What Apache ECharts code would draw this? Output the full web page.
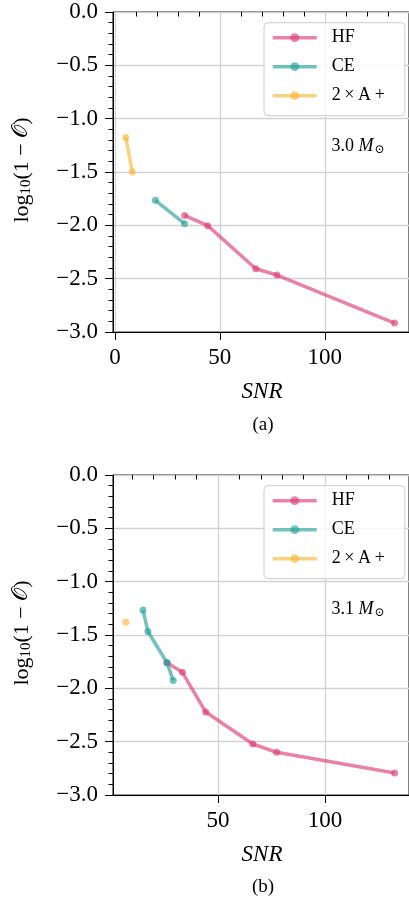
<!DOCTYPE html>
<html><head><meta charset="utf-8">
<script src="https://cdn.jsdelivr.net/npm/echarts@6/dist/echarts.min.js"></script>
<style>html,body{margin:0;padding:0;background:#fff}#c{width:409px;height:902px}</style>
</head><body><div id="c"></div>
<script>
// ---- data ----
const seriesNames = ['HF', 'CE', '2×A+'];
const seriesColors = ['#db3f77', '#2aa198', '#f6b93b'];
// panel (a): 3.0 Msun
const hfSnrA = [33.2, 44.2, 67.1, 77.2, 133.2];
const hfLogA = [-1.907, -2.003, -2.407, -2.466, -2.916];
const ceSnrA = [19.3, 33.2];
const ceLogA = [-1.766, -1.985];
const aaSnrA = [5.2, 8.3];
const aaLogA = [-1.176, -1.50];
// panel (b): 3.1 Msun
const hfSnrB = [26.2, 33.4, 44.3, 66.3, 77.4, 132.5];
const hfLogB = [-1.76, -1.85, -2.222, -2.522, -2.60, -2.794];
const ceSnrB = [15.0, 17.3, 26.2, 29.1];
const ceLogB = [-1.266, -1.467, -1.76, -1.926];
const aaSnrB = [7.0];
const aaLogB = [-1.381];
// ticks
const xMajorA = [0, 50, 100];
const xMajorB = [50, 100];
const xMinor = [10, 20, 30, 40, 60, 70, 80, 90, 110, 120, 130];
const yMin = -3, yMax = 0, yStep = 0.5;
const massLabels = ['3.0', '3.1'];
const captions = ['(a)', '(b)'];

const SERIF = '"Liberation Serif", "DejaVu Serif", serif';
const zip = (xs, ys) => xs.map((x, i) => [x, ys[i]]);

const panels = [
  {grid: {left: 113, top: 12, width: 300, height: 320}, xmin: -0.9, xmax: 140.1, major: xMajorA,
   data: [zip(hfSnrA, hfLogA), zip(ceSnrA, ceLogA), zip(aaSnrA, aaLogA)]},
  {grid: {left: 113, top: 475, width: 300, height: 320}, xmin: 1.0, xmax: 139.2, major: xMajorB,
   data: [zip(hfSnrB, hfLogB), zip(ceSnrB, ceLogB), zip(aaSnrB, aaLogB)]}
];

const grids = [], xAxes = [], yAxes = [], series = [], legends = [], graphics = [];
panels.forEach((p, k) => {
  grids.push(Object.assign({show: true, borderColor: '#000', borderWidth: 1, backgroundColor: 'transparent'}, p.grid));
  xAxes.push({
    type: 'value', gridIndex: k, min: p.xmin, max: p.xmax, position: 'bottom',
    axisLine: {show: true, onZero: false, lineStyle: {color: '#000', width: 1}},
    axisTick: {show: true, customValues: p.major, length: 8, lineStyle: {color: '#000', width: 1}},
    axisLabel: {show: true, customValues: p.major, margin: 14, color: '#000', fontFamily: SERIF, fontSize: 23},
    splitLine: {show: true, lineStyle: {color: '#d2d2d2', width: 1.3}}
  });
  xAxes.push({
    type: 'value', gridIndex: k, min: p.xmin, max: p.xmax, position: 'bottom',
    axisLine: {show: false},
    axisTick: {show: true, customValues: xMinor, length: 4.5, lineStyle: {color: '#000', width: 1}},
    axisLabel: {show: false}, splitLine: {show: false}
  });
  yAxes.push({
    type: 'value', gridIndex: k, min: yMin, max: yMax, interval: yStep,
    axisLine: {show: true, onZero: false, lineStyle: {color: '#000', width: 1}},
    axisTick: {show: true, length: 8, lineStyle: {color: '#000', width: 1}},
    minorTick: {show: true, splitNumber: 5, length: 4.5, lineStyle: {color: '#000', width: 1}},
    axisLabel: {margin: 15, color: '#000', fontFamily: SERIF, fontSize: 23,
      formatter: v => v.toFixed(1).replace('-', '\u2212')},
    splitLine: {show: true, lineStyle: {color: '#d2d2d2', width: 1.3}}
  });
  seriesNames.forEach((nm, j) => {
    series.push({
      type: 'line', name: nm, xAxisIndex: 2 * k, yAxisIndex: k, data: p.data[j],
      symbol: 'circle', symbolSize: 7, showSymbol: true, z: 2 + j,
      color: seriesColors[j],
      lineStyle: {width: 3.5, opacity: 0.65, color: seriesColors[j]},
      itemStyle: {opacity: 0.65, color: seriesColors[j]},
      emphasis: {disabled: true}, animation: false
    });
  });
  const dy = p.grid.top - 12;
  legends.push({
    orient: 'vertical', left: 264, top: 22.7 + dy, data: seriesNames, selectedMode: false,
    itemWidth: 44, itemHeight: 11, itemGap: 9, padding: [5, 20, 10, 7],
    backgroundColor: 'rgba(255,255,255,0.8)', borderColor: '#cccccc', borderWidth: 1, borderRadius: 4,
    lineStyle: {width: 3.5, opacity: 0.65},
    itemStyle: {opacity: 0.65},
    textStyle: {fontFamily: SERIF, fontSize: 18, color: '#000', lineHeight: 20, padding: [0, 0, 0, 10]},
    formatter: n => n === '2×A+' ? '2\u2009×\u2009A\u2009+' : n
  });
  graphics.push({
    type: 'text', x: 358, y: 146 + dy, z: 20,
    style: {
      text: '{n|' + massLabels[k] + ' }{m|M}{s|⊙}', align: 'center', verticalAlign: 'middle',
      rich: {
        n: {fontFamily: SERIF, fontSize: 18, fill: '#000'},
        m: {fontFamily: SERIF, fontSize: 18, fontStyle: 'italic', fill: '#000'},
        s: {fontFamily: SERIF, fontSize: 12, fill: '#000', padding: [8, 0, 0, 1]}
      }
    }
  });
  graphics.push({
    type: 'text', x: 22, y: 170 + dy, rotation: Math.PI / 2, z: 20,
    style: {
      text: '{a|log}{s|10}{a|(1 \u2212 }{o|𝒪}{a|)}', align: 'center', verticalAlign: 'middle',
      rich: {
        a: {fontFamily: SERIF, fontSize: 22, fill: '#000'},
        s: {fontFamily: SERIF, fontSize: 15, fill: '#000', padding: [8, 0, 0, 0]},
        o: {fontFamily: '"DejaVu Sans", "DejaVu Serif", serif', fontSize: 21, fill: '#000'}
      }
    }
  });
  graphics.push({
    type: 'text', x: 262, y: 391.7 + dy, z: 20,
    style: {text: 'SNR', font: 'italic 23px ' + SERIF, fill: '#000', align: 'center', verticalAlign: 'middle'}
  });
  graphics.push({
    type: 'text', x: 263, y: 425 + (k ? 461.7 : 0), z: 20,
    style: {text: captions[k], font: '19px ' + SERIF, fill: '#000', align: 'center', verticalAlign: 'middle'}
  });
});

const chart = echarts.init(document.getElementById('c'), null, {renderer: 'canvas'});
chart.setOption({
  animation: false, backgroundColor: '#fff',
  grid: grids, xAxis: xAxes, yAxis: yAxes, series: series, legend: legends, graphic: graphics
});
</script></body></html>
